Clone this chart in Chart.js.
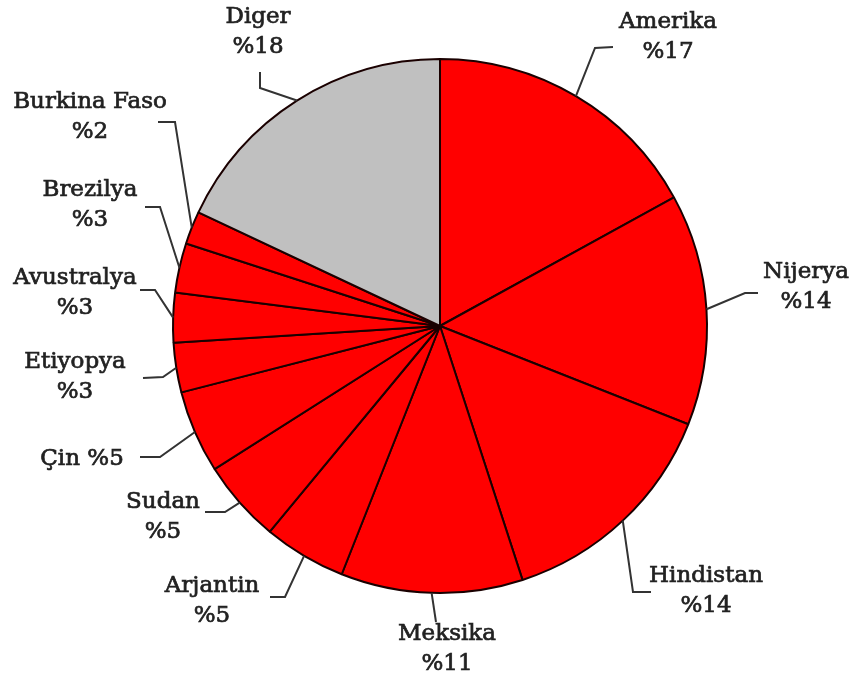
<!DOCTYPE html>
<html>
<head>
<meta charset="utf-8">
<script src="https://cdn.jsdelivr.net/npm/chart.js@4"></script>
<style>
  html, body { margin: 0; padding: 0; background: #fff; }
  #wrap { width: 858px; height: 680px; }
</style>
</head>
<body>
<div id="wrap"><canvas id="pieChart" width="858" height="680"></canvas></div>
<script>
// Share by country, clockwise from the top
const countries = ['Amerika', 'Nijerya', 'Hindistan', 'Meksika', 'Arjantin', 'Sudan', 'Çin',
  'Etiyopya', 'Avustralya', 'Brezilya', 'Burkina Faso', 'Diger'];
const shares = [17, 14, 14, 11, 5, 5, 5, 3, 3, 3, 2, 18];
const sliceColors = ['#ff0000', '#ff0000', '#ff0000', '#ff0000', '#ff0000', '#ff0000', '#ff0000',
  '#ff0000', '#ff0000', '#ff0000', '#ff0000', '#c0c0c0'];

// Callout layout: elbow point, end of leader, text centre, one or two lines
const callouts = [
  { elbow: [595, 48], end: [613, 47], text: [668, 22], oneLine: false },
  { elbow: [745, 293], end: [758, 293], text: [806, 272], oneLine: false },
  { elbow: [633, 592], end: [651, 592], text: [706, 576], oneLine: false },
  { elbow: null, end: [436, 622], text: [447, 634], oneLine: false },
  { elbow: [285, 597], end: [270, 597], text: [212, 586], oneLine: false },
  { elbow: [225, 512], end: [205, 512], text: [163, 502], oneLine: false },
  { elbow: [160, 457], end: [140, 457], text: [82, 459], oneLine: true },
  { elbow: [163, 377], end: [143, 378], text: [75, 362], oneLine: false },
  { elbow: [155, 290], end: [140, 290], text: [75, 278], oneLine: false },
  { elbow: [160, 207], end: [145, 207], text: [90, 190], oneLine: false },
  { elbow: [175, 122], end: [158, 122], text: [90, 102], oneLine: false },
  { elbow: [260, 88], end: [260, 72], text: [258, 17], oneLine: false }
];

const calloutPlugin = {
  id: 'callouts',
  afterDatasetsDraw(chart) {
    const ctx = chart.ctx;
    const arcs = chart.getDatasetMeta(0).data;
    ctx.save();
    ctx.textAlign = 'center';
    ctx.textBaseline = 'middle';
    ctx.font = '23px "DejaVu Serif", serif';
    const label = (s, x, y) => {
      ctx.lineWidth = 0.7;
      ctx.strokeStyle = '#222';
      ctx.fillText(s, x, y);
      ctx.strokeText(s, x, y);
    };
    arcs.forEach((arc, i) => {
      const c = callouts[i];
      const mid = (arc.startAngle + arc.endAngle) / 2;
      const sx = arc.x + Math.cos(mid) * arc.outerRadius;
      const sy = arc.y + Math.sin(mid) * arc.outerRadius;
      ctx.strokeStyle = '#333';
      ctx.lineWidth = 2;
      ctx.beginPath();
      ctx.moveTo(sx, sy);
      if (c.elbow) ctx.lineTo(c.elbow[0], c.elbow[1]);
      ctx.lineTo(c.end[0], c.end[1]);
      ctx.stroke();
      ctx.fillStyle = '#222';
      const pct = '%' + shares[i];
      if (c.oneLine) {
        label(countries[i] + ' ' + pct, c.text[0], c.text[1]);
      } else {
        label(countries[i], c.text[0], c.text[1]);
        label(pct, c.text[0], c.text[1] + 30);
      }
    });
    ctx.restore();
  }
};

new Chart(document.getElementById('pieChart').getContext('2d'), {
  type: 'pie',
  data: {
    labels: countries,
    datasets: [{
      data: shares,
      backgroundColor: sliceColors,
      borderColor: '#1a0000',
      borderWidth: 2
    }]
  },
  options: {
    responsive: false,
    animation: false,
    layout: { padding: { top: 58, bottom: 86, left: 172, right: 150 } },
    plugins: {
      legend: { display: false },
      tooltip: { enabled: false }
    }
  },
  plugins: [calloutPlugin]
});
</script>
</body>
</html>
